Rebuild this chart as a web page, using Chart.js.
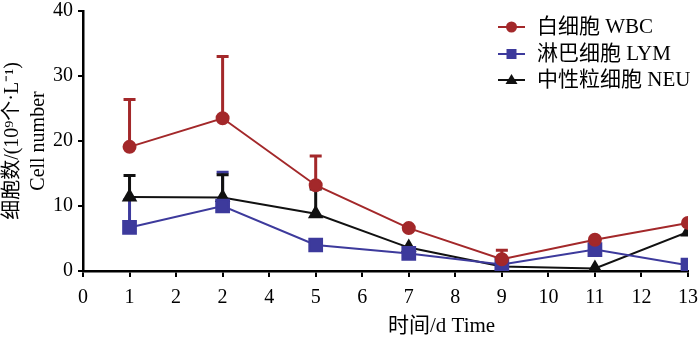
<!DOCTYPE html>
<html>
<head>
<meta charset="utf-8">
<script src="https://cdn.jsdelivr.net/npm/chart.js@4"></script>
<style>
  html, body { margin: 0; padding: 0; background: #fff; }
  #wrap { width: 700px; height: 337px; }
</style>
</head>
<body>
<div id="wrap"><canvas id="cellChart"></canvas></div>
<script>
// sampling days (x positions) and the printed tick labels (the "2" at 3 is as in the figure)
const days = [1, 3, 5, 7, 9, 11, 13];
const xTickLabels = ['0', '1', '2', '2', '4', '5', '6', '7', '8', '9', '10', '11', '12', '13'];

// mean values, 10^9 cells per L
const wbc = [19.1, 23.5, 13.2, 6.6, 1.8, 4.8, 7.4];
const lym = [6.7, 10.0, 4.0, 2.7, 1.0, 3.3, 0.9];
const neu = [11.4, 11.3, 8.8, 3.6, 0.7, 0.4, 6.0];

// upper error bars
const wbcErr = [7.3, 9.5, 4.5, 0, 1.4, 0, 0];
const lymErr = [4.3, 5.2, 0, 0, 0, 0, 0];
const neuErr = [3.3, 3.5, 3.8, 0, 0, 0, 0];

const seriesNames = ['白细胞 WBC', '淋巴细胞 LYM', '中性粒细胞 NEU'];
const xTitle = '时间/d Time';
const yTitle = ['细胞数/(10⁹个·L⁻¹)', 'Cell number'];

const FONT = '"Liberation Serif", "Times New Roman", "Noto Sans CJK SC", serif';

function toPoints(vals) {
  return days.map((d, i) => ({ x: d, y: vals[i] }));
}

// draws the upward error bars with caps, under the lines
const errorBars = {
  id: 'errorBars',
  beforeDatasetsDraw(chart) {
    const ctx = chart.ctx;
    const yScale = chart.scales.y;
    chart.data.datasets.forEach((ds, di) => {
      const meta = chart.getDatasetMeta(di);
      ctx.save();
      ctx.strokeStyle = ds.borderColor;
      ctx.lineWidth = 3;
      meta.data.forEach((pt, i) => {
        const e = ds.errors[i];
        if (!e) return;
        const top = yScale.getPixelForValue(ds.data[i].y + e);
        ctx.beginPath();
        ctx.moveTo(pt.x, pt.y);
        ctx.lineTo(pt.x, top);
        ctx.moveTo(pt.x - 6, top);
        ctx.lineTo(pt.x + 6, top);
        ctx.stroke();
      });
      ctx.restore();
    });
  }
};

// legend with a short line through the marker, plus the x title sitting right of centre as in the figure
const lineLegend = {
  id: 'lineLegend',
  afterDraw(chart) {
    const ctx = chart.ctx;
    const x0 = 498, x1 = 525, tx = 537;
    const rows = [27, 54, 80];
    chart.data.datasets.forEach((ds, di) => {
      const y = rows[di];
      const cx = (x0 + x1) / 2;
      ctx.save();
      ctx.strokeStyle = ds.borderColor;
      ctx.fillStyle = ds.borderColor;
      ctx.lineWidth = 2;
      ctx.beginPath();
      ctx.moveTo(x0, y);
      ctx.lineTo(x1, y);
      ctx.stroke();
      ctx.beginPath();
      if (ds.pointStyle === 'circle') {
        ctx.arc(cx, y, 5.5, 0, Math.PI * 2);
      } else if (ds.pointStyle === 'rect') {
        ctx.rect(cx - 5, y - 5, 10, 10);
      } else {
        ctx.moveTo(cx, y - 6);
        ctx.lineTo(cx + 6, y + 4);
        ctx.lineTo(cx - 6, y + 4);
        ctx.closePath();
      }
      ctx.fill();
      ctx.fillStyle = '#000';
      ctx.font = '21px ' + FONT;
      ctx.textBaseline = 'middle';
      ctx.textAlign = 'left';
      ctx.fillText(ds.label, tx, y);
      ctx.restore();
    });
    ctx.save();
    ctx.fillStyle = '#000';
    ctx.font = '21px ' + FONT;
    ctx.textBaseline = 'middle';
    ctx.textAlign = 'left';
    ctx.fillText(xTitle, 388, 326);
    ctx.restore();
  }
};

new Chart(document.getElementById('cellChart').getContext('2d'), {
  type: 'line',
  data: {
    datasets: [
      {
        label: seriesNames[0],
        data: toPoints(wbc),
        errors: wbcErr,
        borderColor: '#a3282a',
        backgroundColor: '#a3282a',
        pointStyle: 'circle',
        pointRadius: 6,
        borderWidth: 2
      },
      {
        label: seriesNames[1],
        data: toPoints(lym),
        errors: lymErr,
        borderColor: '#3d3a9c',
        backgroundColor: '#3d3a9c',
        pointStyle: 'rect',
        pointRadius: 9,
        borderWidth: 2
      },
      {
        label: seriesNames[2],
        data: toPoints(neu),
        errors: neuErr,
        borderColor: '#111111',
        backgroundColor: '#111111',
        pointStyle: 'triangle',
        pointRadius: 7,
        borderWidth: 2
      }
    ]
  },
  options: {
    responsive: true,
    maintainAspectRatio: false,
    animation: false,
    layout: { padding: { top: 4, right: 12, left: 0, bottom: 18 } },
    plugins: {
      legend: { display: false },
      tooltip: { enabled: false }
    },
    scales: {
      x: {
        type: 'linear',
        min: 0,
        max: 13,
        afterFit(scale) { scale.paddingLeft = 0; scale.paddingRight = 0; },
        ticks: {
          stepSize: 1,
          color: '#000',
          font: { family: FONT, size: 20 },
          padding: 9,
          maxRotation: 0,
          callback: (v) => xTickLabels[v]
        },
        grid: { display: true, drawOnChartArea: false, drawTicks: true, tickLength: 6, color: '#000', lineWidth: 2 },
        border: { color: '#000', width: 2.5 }
      },
      y: {
        min: 0,
        max: 40,
        afterFit(scale) { scale.width = 83; scale.paddingTop = 0; scale.paddingBottom = 0; },
        ticks: {
          stepSize: 10,
          color: '#000',
          font: { family: FONT, size: 20 },
          padding: 5
        },
        grid: { display: true, drawOnChartArea: false, drawTicks: true, tickLength: 5, color: '#000', lineWidth: 2 },
        border: { color: '#000', width: 2.5 },
        title: {
          display: true,
          text: yTitle,
          color: '#000',
          font: { family: FONT, size: 20, lineHeight: 1.3 },
          padding: { top: 0, bottom: 0 }
        }
      }
    }
  },
  plugins: [errorBars, lineLegend]
});
</script>
</body>
</html>
